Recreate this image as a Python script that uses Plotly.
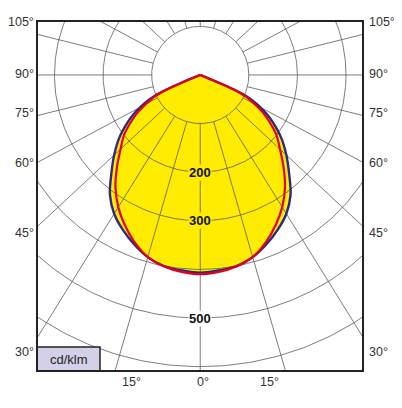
import numpy as np
import plotly.graph_objects as go

# light distribution, gamma angle from nadir (deg) -> luminous intensity (cd/klm)
GAMMA = [0, 5, 10, 15, 20, 25, 30, 35, 40, 45, 50, 55, 57.5, 60, 62, 63, 64, 65, 66, 67]
PLANE_BLUE = [407, 404, 400, 390, 374, 356, 336, 309, 273, 242, 212, 178, 160, 140, 122, 112, 100, 78, 42, 0]
PLANE_RED = [410, 407, 401, 390, 370, 346, 320, 290, 256, 224, 198, 165, 148, 128, 112, 103, 92, 70, 36, 0]

RINGS = [100, 200, 300, 400, 500, 600, 700]
RING_LABELS = [200, 300, 500]
SPOKES = list(range(0, 181, 15))
SIDE_TICKS = ["105°", "90°", "75°", "60°", "45°", "30°"]
BOTTOM_TICKS = ["15°", "0°", "15°"]
UNIT = "cd/klm"

YELLOW = "#ffec00"
BLUE = "#2a2a88"
RED = "#e3001b"
GRID = "#5c5c5c"
INK = "#222222"
FONT = "Liberation Sans, Arial, sans-serif"

K = 0.93  # the spokes in the drawing are squeezed a little vertically

# the page body has an 8 px margin, so the figure is drawn 8 px smaller
PAGE = 8
L, T = 37 - PAGE, 21 - PAGE
PW, PH = 326, 350
W, H = 402 - PAGE, 408 - PAGE


def unit_dir(g):
    t = np.radians(np.asarray(g, dtype=float))
    dx, dy = np.sin(t), -K * np.cos(t)
    n = np.hypot(dx, dy)
    return dx / n, dy / n


def curve_xy(gamma, vals):
    g = np.array([-a for a in gamma[::-1]] + gamma[1:], dtype=float)
    v = np.array(vals[::-1] + vals[1:], dtype=float)
    ux, uy = unit_dir(g)
    return v * ux, v * uy


def px_x(x):
    return (x - 37) / PW


def px_y(y):
    return (371 - y) / PH


def add_curve(vals, color, width, fill=False):
    x, y = curve_xy(GAMMA, vals)
    # leave the last point (the tip) off the spline so it is not treated as closed
    fig.add_trace(go.Scatter(x=x[:-1], y=y[:-1], mode="lines",
                             line=dict(color=color, width=width, shape="spline", smoothing=1.0),
                             fill="toself" if fill else None, fillcolor=YELLOW, hoverinfo="skip"))
    if not fill:
        fig.add_trace(go.Scatter(x=x[-2:], y=y[-2:], mode="lines",
                                 line=dict(color=color, width=width), hoverinfo="skip"))


fig = go.Figure()

# yellow body
add_curve(PLANE_BLUE, "rgba(0,0,0,0)", 0, fill=True)

# grid rings
gx, gy = [], []
t = np.linspace(0, 2 * np.pi, 400)
for r in RINGS:
    gx += list(r * np.cos(t)) + [None]
    gy += list(r * np.sin(t)) + [None]
# spokes, from the first ring outwards
for a in SPOKES:
    for s in ([1, -1] if 0 < a < 180 else [1]):
        ux, uy = unit_dir(s * a)
        gx += [RINGS[0] * ux, 900 * ux, None]
        gy += [RINGS[0] * uy, 900 * uy, None]
fig.add_trace(go.Scatter(x=gx, y=gy, mode="lines", line=dict(color=GRID, width=0.8), hoverinfo="skip"))

add_curve(PLANE_BLUE, BLUE, 2.4)
add_curve(PLANE_RED, RED, 2.2)

ann = []
for v in RING_LABELS:
    inside = v < PLANE_BLUE[0]
    ann.append(dict(x=0, y=-v, xref="x", yref="y", text=f"<b>{v}</b>", showarrow=False,
                    font=dict(family=FONT, size=13, color="#111111"),
                    bgcolor=YELLOW if inside else "white", borderpad=0))

# angle labels (pixel rows of the reference, converted to paper units)
side_rows = [22, 74, 113, 163, 233, 352]
for lab, py in zip(SIDE_TICKS, side_rows):
    ann.append(dict(x=0, y=px_y(py), xref="paper", yref="paper", text=lab, showarrow=False,
                    xanchor="right", yanchor="middle", xshift=-1,
                    font=dict(family=FONT, size=12.5, color="#333333")))
    ann.append(dict(x=1, y=px_y(py), xref="paper", yref="paper", text=lab, showarrow=False,
                    xanchor="left", yanchor="middle", xshift=4,
                    font=dict(family=FONT, size=12.5, color="#333333")))
bottom_cols = [120, 203, 281]
for lab, pxc in zip(BOTTOM_TICKS, bottom_cols):
    ann.append(dict(x=px_x(pxc), y=0, xref="paper", yref="paper", text=lab, showarrow=False,
                    yanchor="top", yshift=-2, font=dict(family=FONT, size=12.5, color="#333333")))

# unit box
ann.append(dict(x=px_x(68.5), y=px_y(359), xref="paper", yref="paper", text=UNIT,
                showarrow=False, xanchor="center", yanchor="middle",
                font=dict(family=FONT, size=13, color=INK)))

fig.update_layout(
    width=W, height=H,
    margin=dict(l=L, r=W - L - PW, t=T, b=H - T - PH, autoexpand=False),
    paper_bgcolor="white", plot_bgcolor="white",
    showlegend=False,
    annotations=ann,
    shapes=[
        dict(type="rect", xref="paper", yref="paper", x0=0, x1=px_x(100), y0=0, y1=px_y(347),
             fillcolor="#d4d0e8", line=dict(color=INK, width=1.5), layer="above"),
        dict(type="rect", xref="paper", yref="paper", x0=0, x1=1, y0=0, y1=1,
             line=dict(color=INK, width=2), layer="above"),
    ],
    xaxis=dict(range=[-336, 335], visible=False, fixedrange=True),
    yaxis=dict(range=[-609, 111], visible=False, fixedrange=True),
)

fig.write_html("out.html", config=dict(displayModeBar=False))
